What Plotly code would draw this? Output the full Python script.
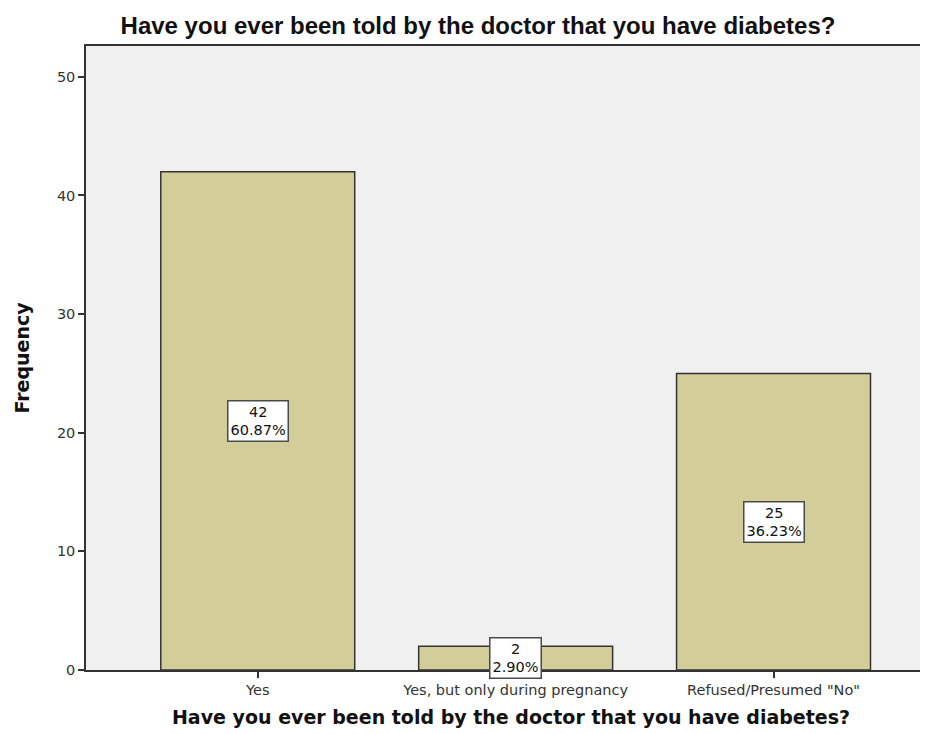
import plotly.graph_objects as go

# Survey answers and their frequencies
categories = ['Yes', 'Yes, but only during pregnancy', 'Refused/Presumed "No"']
counts = [42, 2, 25]
y_ticks = [0, 10, 20, 30, 40, 50]

total = sum(counts)
labels = [f"{c}<br>{c / total * 100:.2f}%" for c in counts]

fig = go.Figure()

fig.add_trace(go.Bar(
    x=categories,
    y=counts,
    width=0.752,
    marker=dict(color='#d3ce99', line=dict(color='#333333', width=1.5)),
    hoverinfo='x+y',
    showlegend=False
))

# Count / percent labels in white boxes at the middle of each bar
for cat, cnt, lab in zip(categories, counts, labels):
    fig.add_annotation(
        x=cat, y=cnt / 2, text=lab, showarrow=False,
        font=dict(family='DejaVu Sans', size=14.5, color='#111111'),
        bgcolor='white', bordercolor='#4a4a4a', borderwidth=1.5, borderpad=2
    )

axis_font = dict(family='DejaVu Sans', size=14.5, color='#333333')

fig.update_layout(
    width=928, height=734,
    margin=dict(l=78, r=0, t=38, b=72),
    paper_bgcolor='white',
    plot_bgcolor='#f0f0f0',
    title=dict(
        text='Have you ever been told by the doctor that you have diabetes?',
        x=470 / 928, xanchor='center', y=1 - 18 / 734, yanchor='middle',
        font=dict(family='Liberation Sans, Arial', size=24, color='#111111', weight='bold')
    ),
    xaxis=dict(
        range=[-0.666, 2.630],
        showline=True, linecolor='#333333', linewidth=1.5, mirror=True,
        ticks='outside', ticklen=6, tickwidth=1.5, tickcolor='#333333',
        tickfont=axis_font,
        showgrid=False, zeroline=False,
        title=dict(
            text='Have you ever been told by the doctor that you have diabetes?',
            font=dict(family='DejaVu Sans', size=19, color='#111111', weight='bold'),
            standoff=14
        )
    ),
    yaxis=dict(
        range=[0, 52.6],
        tickvals=y_ticks,
        showline=True, linecolor='#333333', linewidth=1.5,
        ticks='outside', ticklen=6, tickwidth=1.5, tickcolor='#333333',
        tickfont=axis_font,
        showgrid=False, zeroline=False,
        title=dict(
            text='Frequency',
            font=dict(family='DejaVu Sans', size=19, color='#111111', weight='bold'),
            standoff=22
        )
    )
)

fig.write_html("out.html")
